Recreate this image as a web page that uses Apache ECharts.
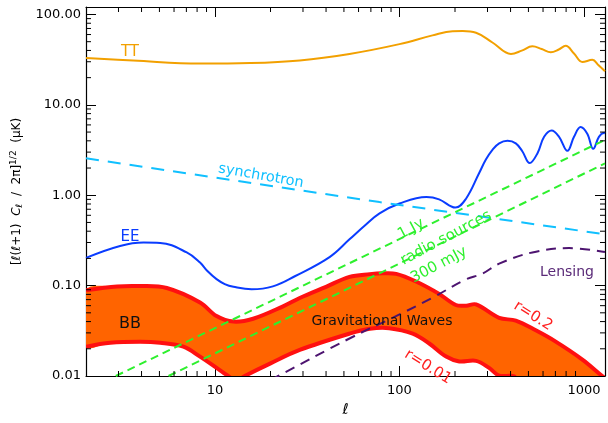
<!DOCTYPE html>
<html>
<head>
<meta charset="utf-8">
<script src="https://cdn.jsdelivr.net/npm/echarts@6/dist/echarts.min.js"></script>
<style>html,body{margin:0;padding:0;background:#fff;}#c{width:608px;height:423px;}</style>
</head>
<body>
<div id="c"></div>
<script>
// ---- axis ranges / ticks ----
const xMin = 2, xMax = 1300;
const yMin = 0.01, yMax = 121;
const xMinorTicks = [3,4,5,6,7,8,9,20,30,40,50,60,70,80,90,200,300,400,500,600,700,800,900];
const yMinorTicks = [0.02,0.03,0.04,0.05,0.06,0.07,0.08,0.09,0.2,0.3,0.4,0.5,0.6,0.7,0.8,0.9,2,3,4,5,6,7,8,9,20,30,40,50,60,70,80,90];

// ---- TT ----
const ttL = [2, 3.6, 8.3, 15.5, 28.8, 53.6, 100, 151, 194, 220, 260, 319, 402, 460, 525, 590, 661, 730, 796, 883, 980, 1110, 1200, 1300];
const ttV = [33, 31, 28.6, 29, 31, 36.6, 47, 58.7, 65.3, 65.5, 62.8, 49, 36.6, 39.8, 44.4, 41.5, 38.2, 41, 45, 37, 29.8, 31.5, 27.4, 23.5];

// ---- EE ----
const eeL = [2, 3.06, 4.1, 5.05, 7.03, 8.3, 9.1, 10.2, 11.3, 12.6, 15.8, 20.6, 27.1, 41.8, 53.6, 64.7, 78, 100, 140, 164, 201, 229, 270, 294, 319, 347, 385, 427, 464, 508, 560, 608, 668, 733, 813, 883, 959, 1042, 1122, 1205, 1283, 1300];
const eeV = [0.203, 0.275, 0.30, 0.297, 0.233, 0.18, 0.145, 0.118, 0.104, 0.097, 0.091, 0.098, 0.127, 0.207, 0.325, 0.46, 0.63, 0.81, 0.954, 0.90, 0.73, 0.91, 1.75, 2.48, 3.18, 3.75, 4.0, 3.75, 3.05, 2.27, 2.92, 4.43, 5.2, 4.43, 3.1, 4.43, 5.7, 4.8, 3.26, 4.43, 4.89, 4.85];

// ---- foregrounds ----
const syncL = [2, 78, 1300];
const syncV = [2.56, 0.84, 0.37];
const radio1L = [2.9, 1300];
const radio1V = [0.01, 4.1];
const radio3L = [5.6, 1300];
const radio3V = [0.01, 2.25];

// ---- lensing BB ----
const lensL = [20, 22, 53.6, 100, 150, 229, 282, 347, 525, 830, 1300];
const lensV = [0.009, 0.01, 0.026, 0.048, 0.073, 0.117, 0.136, 0.175, 0.233, 0.26, 0.235];

// ---- gravitational-wave BB band ----
const bbUpL = [2, 2.95, 3.93, 5.48, 8.3, 10.2, 12.6, 16.1, 23.4, 28.8, 40, 53.6, 69, 81, 96, 123, 164, 202, 230, 260, 347, 427, 548, 703, 980, 1256, 1320];
const bbUpV = [0.089, 0.098, 0.099, 0.094, 0.065, 0.046, 0.040, 0.043, 0.059, 0.073, 0.097, 0.125, 0.134, 0.137, 0.135, 0.111, 0.081, 0.061, 0.060, 0.062, 0.044, 0.041, 0.032, 0.024, 0.0152, 0.01, 0.0093];
const bbLoL = [2, 2.71, 3.93, 5.05, 6.74, 8.3, 10.2, 11.8, 13, 14.5, 20, 28.8, 53.6, 69, 88, 118, 145, 179, 211, 260, 306, 347, 418, 450, 1320];
const bbLoV = [0.0211, 0.0233, 0.0239, 0.0233, 0.0211, 0.0164, 0.0123, 0.01, 0.0088, 0.01, 0.0138, 0.0194, 0.0294, 0.0333, 0.0338, 0.0294, 0.0229, 0.0164, 0.0145, 0.0147, 0.0123, 0.0101, 0.0099, 0.008, 0.005];

const zip = (a, b) => a.map((v, i) => [v, b[i]]);
const FONT = 'DejaVu Sans';

const chart = echarts.init(document.getElementById('c'), null, {renderer: 'canvas'});

const isDecade = v => Math.abs(Math.log10(v) - Math.round(Math.log10(v))) < 1e-6;

const axisCommon = {
  type: 'log', logBase: 10,
  axisLine: {show: true, onZero: false, lineStyle: {color: '#000', width: 1.2}},
  axisTick: {show: true, inside: true, length: 10, lineStyle: {color: '#000', width: 1}},
  splitLine: {show: false},
  minorTick: {show: false}
};

function tickRender(isX) {
  return function (params, api) {
    const v = api.value(isX ? 0 : 1);
    const ch = [];
    const st = {stroke: '#000', lineWidth: 1};
    if (isX) {
      const b = api.coord([v, yMin]), t = api.coord([v, yMax]);
      ch.push({type: 'line', shape: {x1: b[0], y1: b[1], x2: b[0], y2: b[1] - 5}, style: st});
      ch.push({type: 'line', shape: {x1: t[0], y1: t[1], x2: t[0], y2: t[1] + 5}, style: st});
    } else {
      const l = api.coord([xMin, v]), r = api.coord([xMax, v]);
      ch.push({type: 'line', shape: {x1: l[0], y1: l[1], x2: l[0] + 5, y2: l[1]}, style: st});
      ch.push({type: 'line', shape: {x1: r[0], y1: r[1], x2: r[0] - 5, y2: r[1]}, style: st});
    }
    return {type: 'group', children: ch};
  };
}

const SM = 0.35;
function bandRender(params, api) {
  const up = zip(bbUpL, bbUpV).map(p => api.coord(p));
  const lo = zip(bbLoL, bbLoV).map(p => api.coord(p));
  return {
    type: 'group',
    children: [
      {type: 'polygon', shape: {points: up.concat(lo.slice().reverse()), smooth: SM}, style: {fill: '#ff6400', stroke: null}},
      {type: 'polyline', shape: {points: up, smooth: SM}, style: {stroke: '#ff1010', lineWidth: 4, fill: null}},
      {type: 'polyline', shape: {points: lo, smooth: SM}, style: {stroke: '#ff1010', lineWidth: 4, fill: null}}
    ]
  };
}

function txt(text, x, y, color, size, rot) {
  return {
    type: 'text', x: x, y: y, rotation: (rot || 0) * Math.PI / 180, z: 100,
    style: {text: text, fill: color, font: size + 'px "' + FONT + '"',
      align: 'center', verticalAlign: 'middle', textAlign: 'center', textVerticalAlign: 'middle'}
  };
}

const option = {
  animation: false,
  backgroundColor: '#fff',
  grid: {left: 86, top: 7, width: 521, height: 378, containLabel: false},
  xAxis: [
    Object.assign({}, axisCommon, {
      min: xMin, max: xMax, position: 'bottom',
      axisLabel: {show: true, margin: 8, color: '#000', fontSize: 13, fontFamily: FONT,
        formatter: v => isDecade(v) ? String(Math.round(v)) : ''},
      name: 'ℓ', nameLocation: 'middle', nameGap: 27,
      nameTextStyle: {color: '#000', fontSize: 15, fontStyle: 'italic', fontFamily: FONT}
    }),
    Object.assign({}, axisCommon, {min: xMin, max: xMax, position: 'top', axisLabel: {show: false}})
  ],
  yAxis: [
    Object.assign({}, axisCommon, {
      min: yMin, max: yMax, position: 'left',
      axisLabel: {show: true, margin: 5, color: '#000', fontSize: 13, fontFamily: FONT,
        formatter: v => isDecade(v) ? v.toFixed(2) : ''},
      name: '[{it|ℓ}({it|ℓ}+1)  {it|C}{sub|ℓ}  /  2π]{sup|1/2}  (μK)',
      nameLocation: 'middle', nameRotate: 90, nameGap: 57,
      nameTextStyle: {color: '#000', fontSize: 12, fontFamily: FONT,
        rich: {
          it: {fontStyle: 'italic', fontSize: 12, fontFamily: FONT, color: '#000'},
          sub: {fontStyle: 'italic', fontSize: 9, fontFamily: FONT, color: '#000', verticalAlign: 'bottom', padding: [6, 0, 0, 0]},
          sup: {fontSize: 9, fontFamily: FONT, color: '#000', verticalAlign: 'top', padding: [0, 0, 6, 0]}
        }}
    }),
    Object.assign({}, axisCommon, {min: yMin, max: yMax, position: 'right', axisLabel: {show: false}})
  ],
  series: [
    {type: 'custom', name: 'BB band', xAxisIndex: 0, yAxisIndex: 0, clip: true, silent: true, z: 2,
      data: [[xMin, yMin]], renderItem: bandRender},
    {type: 'line', name: 'TT', data: zip(ttL, ttV), smooth: 0.4, symbol: 'none', clip: true, z: 3,
      lineStyle: {color: '#f2a000', width: 2}},
    {type: 'line', name: 'EE', data: zip(eeL, eeV), smooth: 0.4, symbol: 'none', clip: true, z: 3,
      lineStyle: {color: '#0a3cff', width: 2}},
    {type: 'line', name: 'synchrotron', data: zip(syncL, syncV), symbol: 'none', clip: true, z: 3,
      lineStyle: {color: '#10c0ff', width: 2, type: [13, 9]}},
    {type: 'line', name: '1 Jy', data: zip(radio1L, radio1V), symbol: 'none', clip: true, z: 4,
      lineStyle: {color: '#2ef02e', width: 2, type: [8, 5]}},
    {type: 'line', name: '300 mJy', data: zip(radio3L, radio3V), symbol: 'none', clip: true, z: 4,
      lineStyle: {color: '#2ef02e', width: 2, type: [8, 5]}},
    {type: 'line', name: 'Lensing', data: zip(lensL, lensV), smooth: 0.4, symbol: 'none', clip: true, z: 4,
      lineStyle: {color: '#4d1470', width: 2, type: [10, 7]}},
    {type: 'custom', name: 'xminor', silent: true, z: 10, clip: false,
      data: xMinorTicks.map(v => [v, yMin]), renderItem: tickRender(true)},
    {type: 'custom', name: 'yminor', silent: true, z: 10, clip: false,
      data: yMinorTicks.map(v => [xMin, v]), renderItem: tickRender(false)}
  ],
  graphic: [
    txt('TT', 130, 52, '#f2a000', 15, 0),
    txt('EE', 130, 237, '#0a3cff', 15, 0),
    txt('BB', 130, 324, '#111', 16, 0),
    txt('synchrotron', 261, 176, '#10c0ff', 14.5, -10),
    txt('1 Jy', 411, 229, '#2ef02e', 15, 28),
    txt('radio sources', 446, 238, '#2ef02e', 15, 28),
    txt('300 mJy', 439, 265, '#2ef02e', 15, 28),
    txt('Lensing', 567, 272, '#5a2a78', 14, 0),
    txt('Gravitational Waves', 382, 321, '#111', 14, 0),
    txt('r=0.2', 533, 316, '#ff2020', 15, -32),
    txt('r=0.01', 428, 367, '#ff2020', 15, -32)
  ]
};
chart.setOption(option);
</script>
</body>
</html>
